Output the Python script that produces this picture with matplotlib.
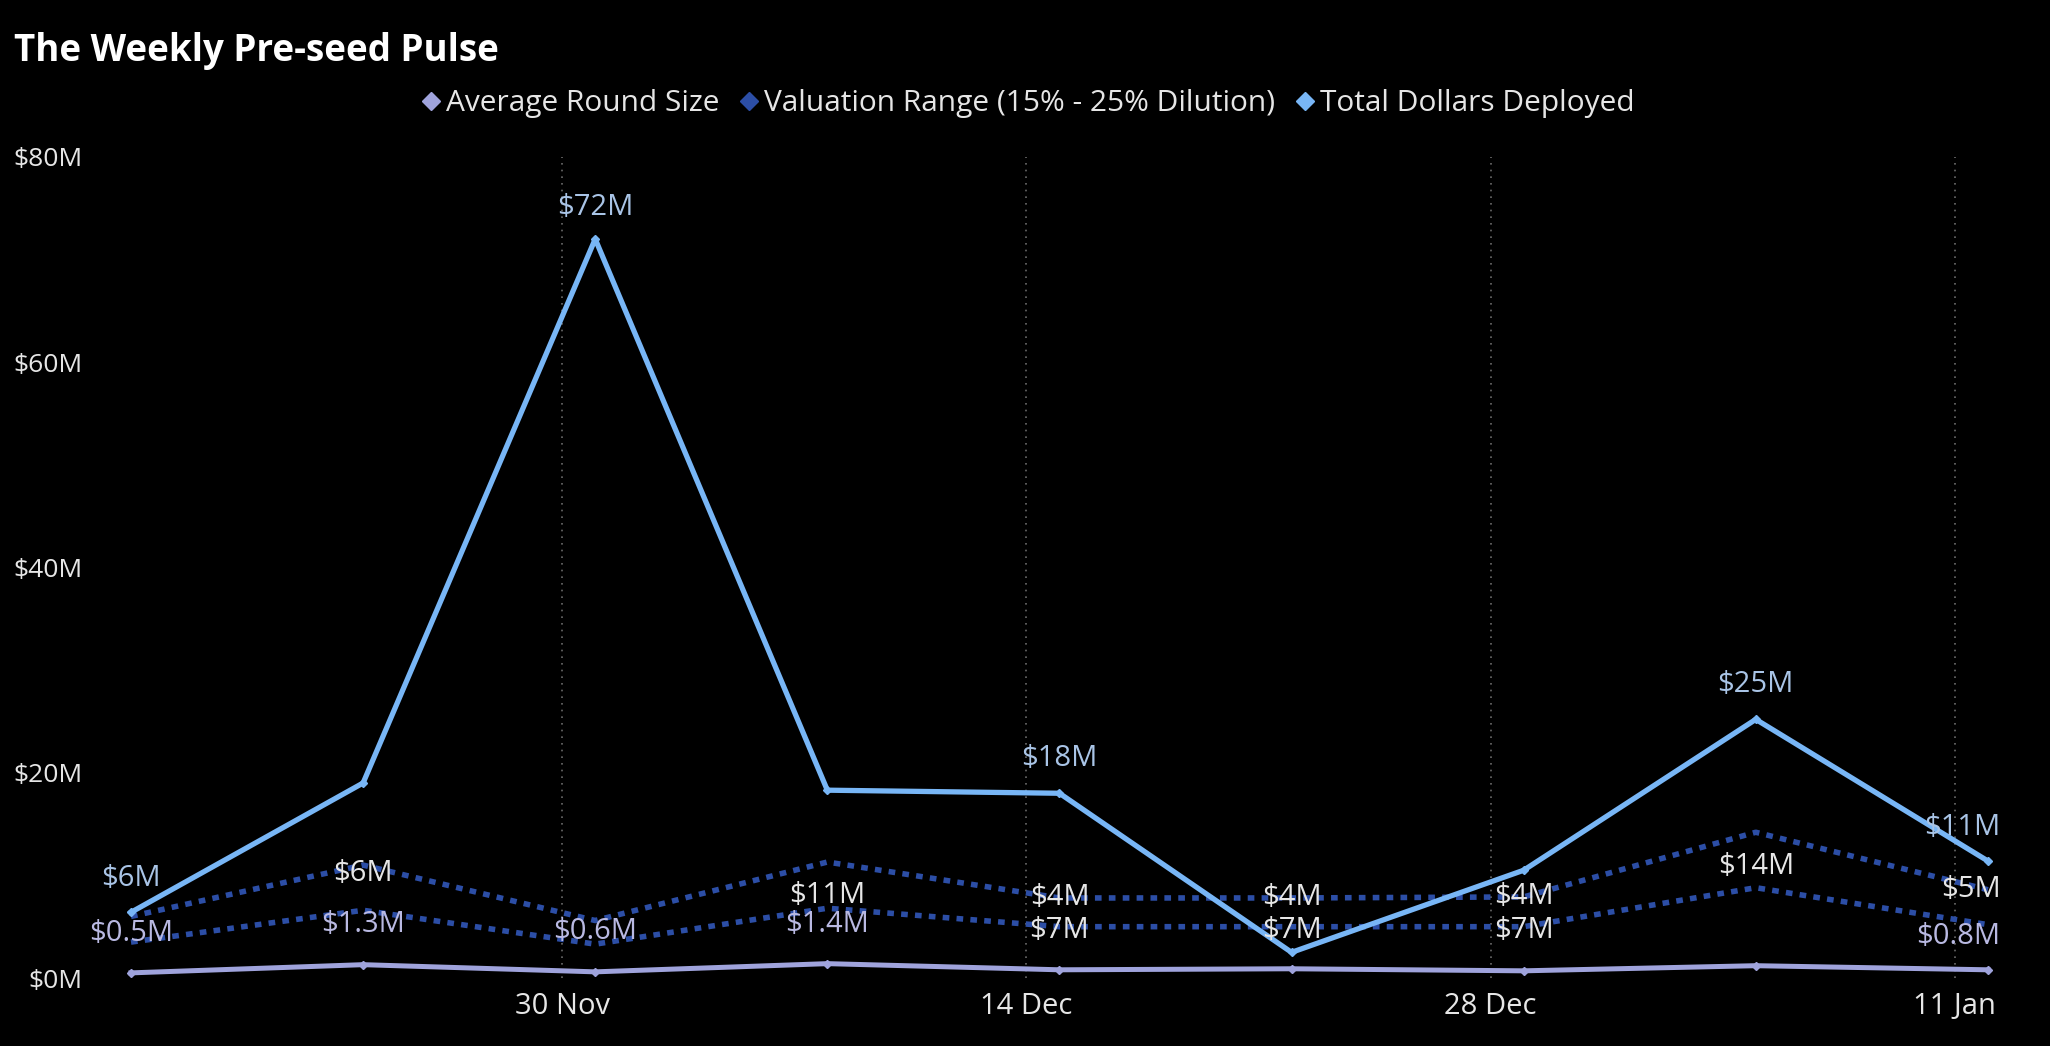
import numpy as np
import matplotlib
matplotlib.use("Agg")
import matplotlib.pyplot as plt
from matplotlib.lines import Line2D

plt.rcParams['font.family'] = ['Open Sans', 'DejaVu Sans']

# weekly points (Mondays)
weeks = np.array(['2025-11-17', '2025-11-24', '2025-12-01', '2025-12-08', '2025-12-15',
                  '2025-12-22', '2025-12-29', '2026-01-05', '2026-01-12'], dtype='datetime64[D]')
avg_round = [0.5, 1.3, 0.6, 1.4, 0.8, 0.9, 0.7, 1.2, 0.8]
val_high = [6.0, 11.0, 5.6, 11.3, 7.8, 7.8, 7.9, 14.2, 8.6]
val_low = [3.5, 6.6, 3.3, 6.8, 5.0, 5.0, 5.0, 8.8, 5.2]
total = [6.4, 19.0, 72.0, 18.3, 18.0, 2.5, 10.5, 25.2, 11.4]

tick_dates = np.array(['2025-11-30', '2025-12-14', '2025-12-28', '2026-01-11'], dtype='datetime64[D]')
tick_labels = ['30 Nov', '14 Dec', '28 Dec', '11 Jan']
y_ticks = [0, 20, 40, 60, 80]

c_avg = '#9fa3dc'
c_val = '#2c4ea6'
c_tot = '#78b6f6'
lab_tot = '#a9c4e6'
lab_avg = '#b9b9e2'
lab_val = '#e6e6e6'

series = {'avg': avg_round, 'high': val_high, 'low': val_low, 'total': total}
# data labels: (point index, text, series, offset in points, colour)
labels = [
    (0, '$6M', 'total', 24, lab_tot), (0, '$0.5M', 'avg', 28, lab_avg),
    (1, '$6M', 'high', -6, lab_val), (1, '$1.3M', 'avg', 29, lab_avg),
    (2, '$72M', 'total', 23, lab_tot), (2, '$0.6M', 'avg', 29, lab_avg),
    (3, '$11M', 'high', -24, lab_val), (3, '$1.4M', 'avg', 28, lab_avg),
    (4, '$18M', 'total', 25, lab_tot), (4, '$4M', 'high', 0, lab_val), (4, '$7M', 'low', -3, lab_val),
    (5, '$4M', 'high', 0, lab_val), (5, '$7M', 'low', -3, lab_val),
    (6, '$4M', 'high', 0, lab_val), (6, '$7M', 'low', -3, lab_val),
    (7, '$25M', 'total', 25, lab_tot), (7, '$14M', 'high', -25, lab_val),
    (8, '$11M', 'total', 24, lab_tot), (8, '$5M', 'high', 0, lab_val), (8, '$0.8M', 'avg', 24, lab_avg),
]

fig = plt.figure(figsize=(20.5, 10.46), dpi=100, facecolor='black')
ax = fig.add_axes([0.0585, 0.065, 0.922, 0.785], facecolor='black')

x = weeks.astype(object)
ax.plot(x, avg_round, color=c_avg, lw=3.6, marker='D', ms=4, zorder=3)
ax.plot(x, val_high, color=c_val, lw=4.0, linestyle=(0, (1.2, 1.3)), zorder=2)
ax.plot(x, val_low, color=c_val, lw=4.0, linestyle=(0, (1.2, 1.3)), zorder=2)
ax.plot(x, total, color=c_tot, lw=3.8, marker='D', ms=4, zorder=4)

for i, txt, key, dy, col in labels:
    ha = 'center'
    dx = 0
    if i == len(weeks) - 1:
        ha = 'right'
        dx = 9
    ax.annotate(txt, (x[i], series[key][i]), xytext=(dx, dy), textcoords='offset points',
                ha=ha, va='center', color=col, fontsize=21, zorder=5)

ax.set_xlim(np.datetime64('2025-11-16T16:00').astype(object), np.datetime64('2026-01-12T16:00').astype(object))
ax.set_ylim(0, 80)
ax.set_xticks(tick_dates.astype(object))
ax.set_xticklabels(tick_labels)
ax.set_yticks(y_ticks)
ax.set_yticklabels(['$%dM' % v for v in y_ticks])
ax.tick_params(colors='#e6e6e6', length=0)
ax.tick_params(axis='x', labelsize=21, pad=10)
ax.tick_params(axis='y', labelsize=19, pad=27)
ax.grid(axis='x', color='#6a6a6a', linestyle=(0, (1, 3)), lw=1.2)
for s in ax.spines.values():
    s.set_visible(False)

fig.text(0.007, 0.951, 'The Weekly Pre-seed Pulse', color='white', fontsize=26.5,
         fontweight='bold', ha='left', va='center')

handles = [Line2D([], [], ls='none', marker='D', ms=9, color=c) for c in (c_avg, c_val, c_tot)]
leg = fig.legend(handles, ['Average Round Size', 'Valuation Range (15% - 25% Dilution)', 'Total Dollars Deployed'],
                 loc='center', bbox_to_anchor=(0.5, 0.901), ncol=3, frameon=False, fontsize=21.5,
                 handletextpad=0.0, columnspacing=0.5, handlelength=1.0)
for t in leg.get_texts():
    t.set_color('#e6e6e6')

fig.savefig('out.png', dpi=100, facecolor='black')
